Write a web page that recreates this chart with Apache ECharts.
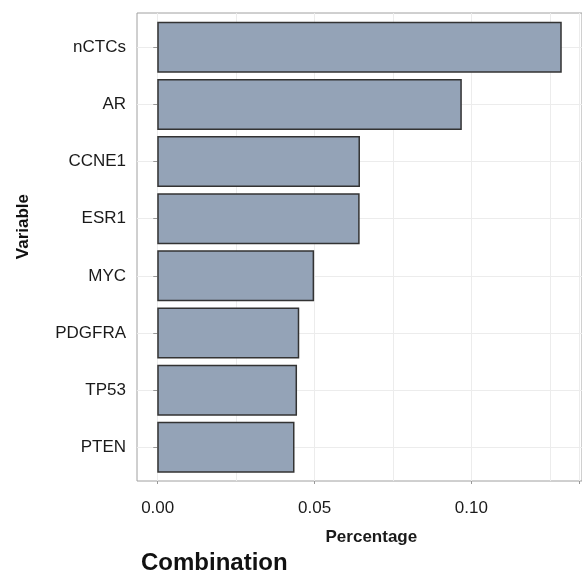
<!DOCTYPE html>
<html>
<head>
<meta charset="utf-8">
<script src="https://cdn.jsdelivr.net/npm/echarts@6/dist/echarts.min.js"></script>
<style>html,body{margin:0;padding:0;background:#fff;}#c{width:582px;height:573px;}</style>
</head>
<body>
<div id="c"></div>
<script>
const categories = ['nCTCs', 'AR', 'CCNE1', 'ESR1', 'MYC', 'PDGFRA', 'TP53', 'PTEN'];
const values = [0.1279, 0.0963, 0.0641, 0.0640, 0.0496, 0.0449, 0.0442, 0.0434];
const xTickValues = ['0.00', '0.05', '0.10'];

const xMin = -0.0064, xMax = 0.1343;
const FONT = 'Liberation Sans, Arial, sans-serif';
const chart = echarts.init(document.getElementById('c'), null, {renderer: 'canvas'});
chart.setOption({
  backgroundColor: '#ffffff',
  animation: false,
  title: {
    text: 'Combination', left: 136, top: 546,
    textStyle: {fontFamily: FONT, fontSize: 24, fontWeight: 'bold', color: '#111'}
  },
  graphic: [{
    type: 'text', left: 15, top: 194, rotation: Math.PI / 2,
    style: {text: 'Variable', font: 'bold 17px ' + FONT, fill: '#111'}
  }],
  grid: [
    {left: 137, top: 13, width: 446, height: 468, show: true, borderColor: '#a0a0a0', borderWidth: 1, backgroundColor: 'transparent', containLabel: false},
    {left: 157.7, top: 13, width: 425.3, height: 468, containLabel: false},
    {left: 137, top: 47.3, width: 446, height: 400, containLabel: false}
  ],
  xAxis: [
    {gridIndex: 0, type: 'value', min: xMin, max: xMax, show: false},
    {gridIndex: 1, type: 'value', position: 'bottom', min: 0, max: xMax, interval: 0.025,
      axisLine: {show: false}, axisTick: {show: false}, axisLabel: {show: false},
      splitLine: {show: true, lineStyle: {color: '#ececec', width: 1}}},
    {gridIndex: 1, type: 'value', position: 'bottom', offset: 0, min: 0, max: xMax, interval: 0.05,
      axisLine: {show: false},
      axisTick: {show: true, length: 3, lineStyle: {color: '#999'}},
      axisLabel: {show: true, margin: 19, fontFamily: FONT, fontSize: 17, color: '#1a1a1a',
        formatter: function (v) { const i = Math.round(v / 0.05); return Math.abs(v - i * 0.05) < 1e-9 ? (xTickValues[i] || '') : ''; }},
      splitLine: {show: false},
      name: 'Percentage', nameLocation: 'middle', nameGap: 48,
      nameTextStyle: {fontFamily: FONT, fontSize: 17, fontWeight: 'bold', color: '#1a1a1a', padding: [0, 0, 0, 6]}},
    {gridIndex: 2, type: 'value', min: xMin, max: xMax, show: false}
  ],
  yAxis: [
    {gridIndex: 0, type: 'value', show: false},
    {gridIndex: 1, type: 'value', show: false},
    {gridIndex: 2, type: 'category', position: 'left', inverse: true, boundaryGap: false, data: categories,
      axisLine: {show: false},
      axisTick: {show: true, inside: false, length: 4, lineStyle: {color: '#999'}},
      axisLabel: {margin: 11, fontFamily: FONT, fontSize: 17, color: '#1a1a1a'},
      splitLine: {show: true, lineStyle: {color: '#ececec', width: 1}}}
  ],
  series: [{
    type: 'bar', xAxisIndex: 3, yAxisIndex: 2, data: values, barWidth: 51, clip: false,
    itemStyle: {color: '#94a3b7', borderColor: '#333333', borderWidth: 1.5},
    emphasis: {disabled: true}, silent: true
  }]
});
</script>
</body>
</html>
